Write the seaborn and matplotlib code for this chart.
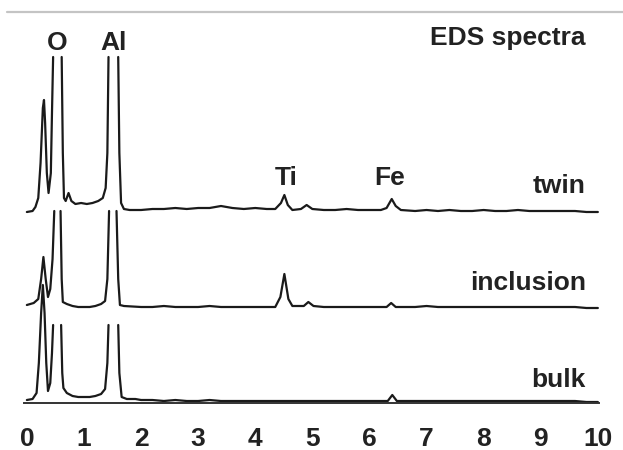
import numpy as np
import pandas as pd
import matplotlib.pyplot as plt
from matplotlib.lines import Line2D
import seaborn as sns

# Spectra (energy in keV, intensity in a.u. above each trace's own baseline).
# None marks the top of a peak that is cut off in the figure.
twin_kev = [0.00, 0.10, 0.15, 0.20, 0.24, 0.28, 0.30, 0.32, 0.35, 0.38, 0.42, 0.44, 0.46, None,
            0.61, 0.63, 0.65, 0.68, 0.73, 0.78, 0.85, 0.95, 1.05, 1.15, 1.25, 1.33, 1.38, 1.41, 1.43, None,
            1.60, 1.62, 1.65, 1.70, 1.80, 2.00, 2.20, 2.40, 2.60, 2.80, 3.00, 3.20, 3.40, 3.60, 3.80,
            4.00, 4.20, 4.35, 4.45, 4.51, 4.57, 4.65, 4.80, 4.90, 5.00, 5.20, 5.40, 5.60, 5.80, 6.00,
            6.20, 6.30, 6.39, 6.46, 6.55, 6.80, 7.00, 7.20, 7.40, 7.60, 7.80, 8.00, 8.20, 8.40, 8.60,
            8.80, 9.00, 9.20, 9.40, 9.60, 9.80, 10.00]
twin_counts = [1, 2, 6, 15, 50, 105, 113, 90, 40, 20, 40, 100, 156, None,
               156, 60, 15, 12, 20, 12, 9, 10, 9, 10, 12, 15, 25, 60, 156, None,
               156, 60, 10, 4, 3, 3, 4, 4, 5, 4, 5, 5, 7, 5, 4,
               5, 4, 4, 10, 18, 8, 3, 4, 8, 4, 3, 3, 4, 3, 3,
               3, 5, 14, 7, 3, 2, 3, 2, 3, 2, 2, 3, 2, 2, 3,
               2, 2, 2, 2, 2, 1, 1]

inclusion_kev = [0.00, 0.12, 0.20, 0.25, 0.29, 0.33, 0.37, 0.41, 0.45, 0.48, None,
                 0.59, 0.61, 0.63, 0.70, 0.80, 0.90, 1.00, 1.10, 1.20, 1.30, 1.37, 1.41, 1.44, None,
                 1.57, 1.60, 1.63, 1.70, 2.00, 2.20, 2.40, 2.60, 2.80, 3.00, 3.20, 3.40, 3.60, 3.80,
                 4.00, 4.20, 4.35, 4.44, 4.51, 4.58, 4.65, 4.85, 4.93, 5.02, 5.20, 5.40, 5.60, 5.80,
                 6.00, 6.20, 6.30, 6.38, 6.46, 6.60, 6.80, 7.00, 7.20, 7.40, 7.60, 7.80, 8.00, 8.20,
                 8.40, 8.60, 8.80, 9.00, 9.20, 9.40, 9.60, 9.80, 10.00]
inclusion_counts = [4, 6, 10, 30, 52, 30, 12, 20, 50, 98, None,
                    98, 30, 7, 5, 3, 2, 2, 2, 3, 5, 8, 30, 98, None,
                    98, 30, 4, 3, 2, 2, 3, 2, 2, 2, 3, 2, 2, 2,
                    2, 2, 2, 12, 35, 10, 3, 3, 7, 3, 2, 2, 2, 2,
                    2, 2, 2, 6, 2, 2, 2, 3, 2, 2, 2, 2, 2, 2,
                    2, 2, 2, 2, 2, 2, 2, 1, 1]

bulk_kev = [0.00, 0.10, 0.17, 0.21, 0.25, 0.28, 0.31, 0.34, 0.37, 0.41, 0.44, 0.46, None,
            0.60, 0.62, 0.64, 0.70, 0.80, 0.90, 1.00, 1.10, 1.20, 1.30, 1.37, 1.41, 1.43, None,
            1.60, 1.62, 1.66, 1.75, 1.90, 2.00, 2.20, 2.40, 2.60, 2.80, 3.00, 3.20, 3.40, 3.60,
            3.80, 4.00, 4.20, 4.40, 4.60, 4.80, 5.00, 5.20, 5.40, 5.60, 5.80, 6.00, 6.20, 6.32,
            6.40, 6.48, 6.60, 6.80, 7.00, 7.20, 7.40, 7.60, 7.80, 8.00, 8.20, 8.40, 8.60, 8.80,
            9.00, 9.20, 9.40, 9.60, 9.80, 10.00]
bulk_counts = [3, 4, 10, 40, 90, 118, 90, 40, 12, 20, 50, 78, None,
               78, 30, 15, 10, 7, 6, 6, 6, 7, 9, 14, 40, 78, None,
               78, 30, 6, 4, 4, 3, 3, 2, 3, 2, 2, 3, 2, 2,
               2, 2, 2, 2, 2, 2, 2, 2, 2, 2, 2, 2, 2, 2,
               8, 2, 2, 2, 2, 2, 2, 2, 2, 2, 2, 2, 2, 2,
               2, 2, 2, 2, 1, 1]

spectrum_names = ["twin", "inclusion", "bulk"]
spectrum_offsets = [190, 94, 0]

element_names = ["O", "Al", "Ti", "Fe"]
element_kev = [0.53, 1.51, 4.54, 6.35]
element_label_y = [353, 353, 218, 218]


def build_frame():
    rows = []
    seg = 0
    series = [(twin_kev, twin_counts), (inclusion_kev, inclusion_counts), (bulk_kev, bulk_counts)]
    for name, off, (xs, ys) in zip(spectrum_names, spectrum_offsets, series):
        seg += 1
        for x, y in zip(xs, ys):
            if x is None:
                seg += 1
                continue
            rows.append({"energy": x, "counts": y + off, "spectrum": name, "segment": seg})
    return pd.DataFrame(rows)


df = build_frame()

sns.set_style("white")
plt.rcParams["font.family"] = ["Liberation Sans", "DejaVu Sans"]

fig = plt.figure(figsize=(6.23, 4.5), dpi=100)
ax = fig.add_axes([24 / 623, 47 / 450, 575 / 623, 391 / 450])

sns.lineplot(data=df, x="energy", y="counts", units="segment", estimator=None,
             sort=False, color="#1a1a1a", linewidth=1.6, ax=ax)

ax.set_xlim(-0.05, 10.02)
ax.set_ylim(0, 391)
ax.set_xticks(range(0, 11))
ax.set_yticks([])
ax.set_xlabel("")
ax.set_ylabel("")
for side in ["top", "left", "right"]:
    ax.spines[side].set_visible(False)
ax.spines["bottom"].set_color("#333333")
ax.spines["bottom"].set_linewidth(1.4)
ax.tick_params(axis="x", direction="out", length=6, width=1.3, color="#333333",
               pad=11, labelsize=19)
for lab in ax.get_xticklabels():
    lab.set_fontweight("bold")
    lab.set_color("#222222")

txt = dict(fontsize=19, fontweight="bold", color="#222222")
for name, e, y in zip(element_names, element_kev, element_label_y):
    ax.text(e, y, name, ha="center", va="baseline", **txt)

ax.text(9.79, 358, "EDS spectra", ha="right", va="baseline", **txt)
label_y = [210, 113, 16]
for name, y in zip(spectrum_names, label_y):
    ax.text(9.79, y, name, ha="right", va="baseline", **txt)

fig.add_artist(Line2D([0.011, 1.0], [1 - 12 / 450, 1 - 12 / 450], color="#c4c4c4",
                      linewidth=1.6, transform=fig.transFigure))

fig.savefig("out.png", dpi=100)
